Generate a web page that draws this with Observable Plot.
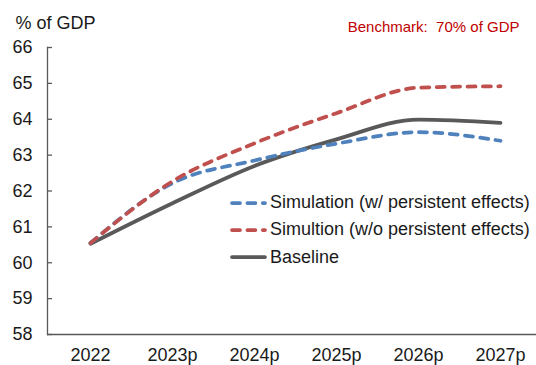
<!DOCTYPE html>
<html>
<head>
<meta charset="utf-8">
<script src="https://cdn.jsdelivr.net/npm/d3@7"></script>
<script src="https://cdn.jsdelivr.net/npm/@observablehq/plot@0.6"></script>
<style>
  html, body { margin: 0; padding: 0; background: #fff; }
  #wrap { position: relative; width: 536px; height: 365px; font-family: "Liberation Sans", Arial, sans-serif; }
  #legend { position: absolute; left: 230px; top: 189px; font-size: 18px; color: #1a1a1a; }
  #legend .row { display: flex; align-items: center; height: 27.3px; }
  #legend svg { margin-right: 3px; }
</style>
</head>
<body>
<div id="wrap"></div>
<script>
const years = ["2022", "2023p", "2024p", "2025p", "2026p", "2027p"];
const simWith = [60.55, 62.22, 62.85, 63.32, 63.64, 63.40];
const simWithout = [60.55, 62.27, 63.33, 64.17, 64.88, 64.92];
const baseline = [60.53, 61.66, 62.70, 63.44, 63.99, 63.90];
const yTicks = [58, 59, 60, 61, 62, 63, 64, 65, 66];
const seriesNames = ["Simulation (w/ persistent effects)", "Simultion (w/o persistent effects)", "Baseline"];
const seriesColors = ["#4F81BD", "#C0504D", "#595959"];
const seriesDash = ["8,7.4", "8,7.4", null];
const titleText = "% of GDP";
const benchmarkText = "Benchmark:  70% of GDP";

const seriesValues = [simWith, simWithout, baseline];
const rows = [];
seriesNames.forEach((name, i) => {
  years.forEach((yr, j) => rows.push({series: name, year: yr, value: seriesValues[i][j]}));
});

const W = 536, H = 365, ML = 47, MR = 0, MT = 47, MB = 31;
const font = "Liberation Sans, Arial, sans-serif";

// drawing order: baseline, then w/ persistent effects, then w/o persistent effects on top
const drawOrder = [2, 0, 1];
const lineMarks = drawOrder.map(i =>
  Plot.line(rows.filter(d => d.series === seriesNames[i]), {
    x: "year", y: "value",
    stroke: seriesColors[i], strokeWidth: 3.75,
    strokeDasharray: seriesDash[i] || undefined,
    strokeLinecap: "round", strokeLinejoin: "round",
    curve: "monotone-x"
  })
);

const chart = Plot.plot({
  width: W, height: H,
  marginLeft: ML, marginRight: MR, marginTop: MT, marginBottom: MB,
  style: {fontFamily: font, fontSize: "18px", color: "#1a1a1a", background: "#fff"},
  x: {type: "point", domain: years, padding: 0, insetLeft: 42, insetRight: 35, label: null},
  y: {domain: [58, 66], label: null},
  marks: [
    Plot.frame({anchor: "left", stroke: "#595959", strokeWidth: 1.3}),
    Plot.ruleY([58], {stroke: "#595959", strokeWidth: 1.3}),
    Plot.tickY(yTicks, {y: d => d, stroke: "#595959", strokeWidth: 1.3, insetRight: W - ML - MR - 5}),
    Plot.axisY({ticks: yTicks, tickSize: 0, tickPadding: 15, fontSize: 18, tickFormat: d => String(d), label: null, fill: "#1a1a1a"}),
    Plot.axisX({tickSize: 0, tickPadding: 14, fontSize: 18, label: null, fill: "#1a1a1a"}),
    ...lineMarks,
    Plot.text([titleText], {frameAnchor: "top-left", text: d => d, dx: 15 - ML, dy: 16 - MT, lineAnchor: "top", textAnchor: "start", fontSize: 18, fill: "#1a1a1a"}),
    Plot.text([benchmarkText], {frameAnchor: "top-right", text: d => d, dx: -17, dy: 21 - MT, lineAnchor: "top", textAnchor: "end", fontSize: 15, fill: "#C00000"})
  ]
});

const wrap = document.getElementById("wrap");
wrap.appendChild(chart);

const legend = document.createElement("div");
legend.id = "legend";
seriesNames.forEach((name, i) => {
  const row = document.createElement("div");
  row.className = "row";
  const dash = seriesDash[i] ? `stroke-dasharray="${seriesDash[i]}"` : "";
  row.innerHTML = `<svg width="37" height="8"><line x1="2" y1="4" x2="35" y2="4" stroke="${seriesColors[i]}" stroke-width="3.75" stroke-linecap="round" ${dash}></line></svg><span>${name}</span>`;
  legend.appendChild(row);
});
wrap.appendChild(legend);
</script>
</body>
</html>
